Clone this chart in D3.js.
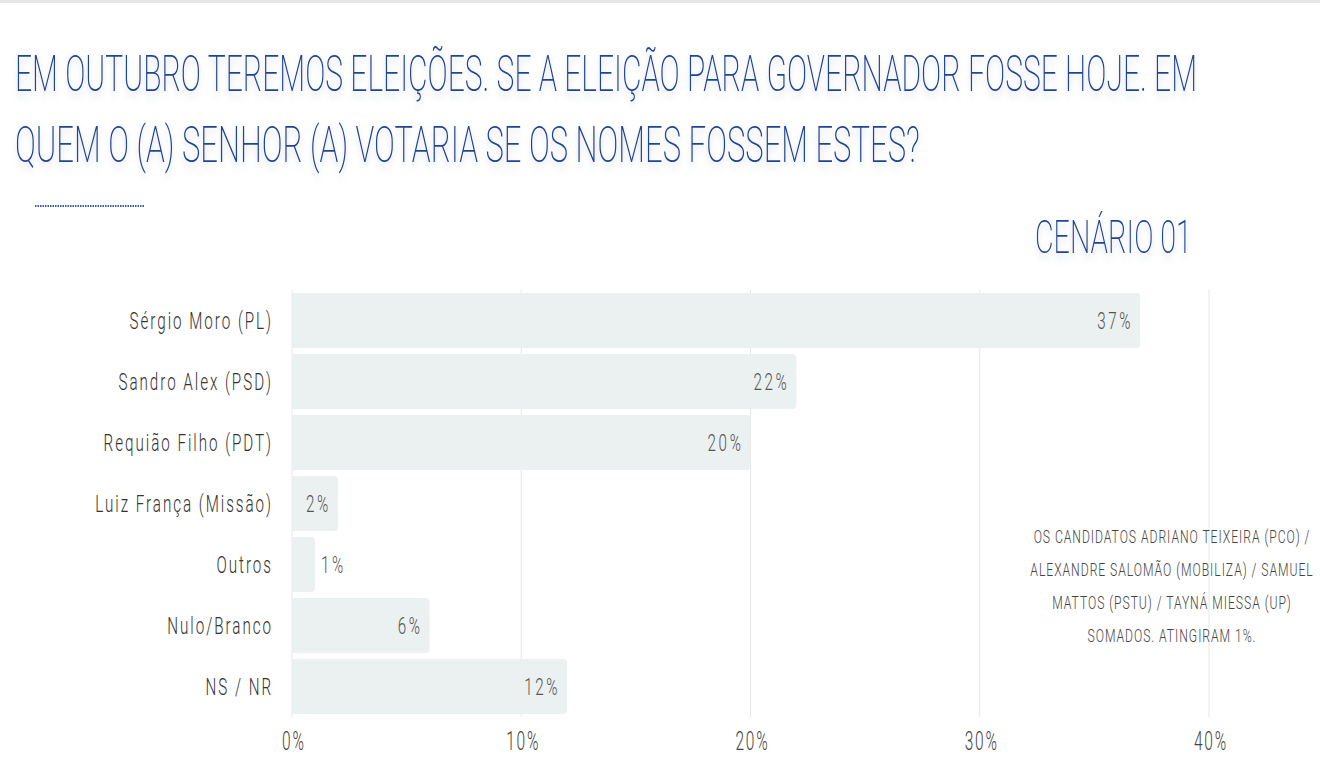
<!DOCTYPE html>
<html><head><meta charset="utf-8">
<script src="https://cdn.jsdelivr.net/npm/d3@7/dist/d3.min.js"></script>
<style>
html,body{margin:0;padding:0;background:#fff;}
svg{display:block;}
</style></head>
<body>
<svg id="c" width="1320" height="768"></svg>
<script>
const categories = ["Sérgio Moro (PL)","Sandro Alex (PSD)","Requião Filho (PDT)","Luiz França (Missão)","Outros","Nulo/Branco","NS / NR"];
const values = [37,22,20,2,1,6,12];
const tickValues = [0,10,20,30,40];
const titleLines = ["EM OUTUBRO TEREMOS ELEIÇÕES. SE A ELEIÇÃO PARA GOVERNADOR FOSSE HOJE. EM","QUEM O (A) SENHOR (A) VOTARIA SE OS NOMES FOSSEM ESTES?"];
const subtitle = "CENÁRIO 01";
const noteLines = ["OS CANDIDATOS ADRIANO TEIXEIRA (PCO) /","ALEXANDRE SALOMÃO (MOBILIZA) / SAMUEL","MATTOS (PSTU) / TAYNÁ MIESSA (UP)","SOMADOS. ATINGIRAM 1%."];

const svg = d3.select("#c");
const defs = svg.append("defs");
const f = defs.append("filter").attr("id","sh").attr("x","-5%").attr("y","-30%").attr("width","110%").attr("height","170%");
f.append("feDropShadow").attr("dx",0).attr("dy",4).attr("stdDeviation",4).attr("flood-color","#8a9ab8").attr("flood-opacity",0.45);

// top border
svg.append("rect").attr("x",0).attr("y",0).attr("width",1320).attr("height",3).attr("fill","#e6e6e6");

const FONT = "Roboto, 'Liberation Sans', sans-serif";

// text fitted to a target width via horizontal scale
function fitText(str, tx, ty, width, size, weight, fill, anchor){
  const t = svg.append("text").attr("font-family",FONT).attr("font-weight",weight)
    .attr("font-size",size).attr("fill",fill).attr("text-anchor",anchor||"start").text(str);
  const w = t.node().getComputedTextLength();
  t.attr("transform",`translate(${tx},${ty}) scale(${width/w},1)`);
  return t;
}

// title
const tl = [[15,91,1182],[15,162,905]];
titleLines.forEach((t,i)=>{
  fitText(t, tl[i][0], tl[i][1], tl[i][2], 50, 200, "#1f4493").attr("filter","url(#sh)");
});
// dotted line
svg.append("line").attr("x1",35).attr("x2",145).attr("y1",206).attr("y2",206)
  .attr("stroke","#3a5aa8").attr("stroke-width",2).attr("stroke-dasharray","1.5,1");

// subtitle
fitText(subtitle, 1035, 253, 157, 46, 200, "#1f4493").attr("filter","url(#sh)");

const x = d3.scaleLinear().domain([0,40]).range([292,1209]);
const y = d3.scaleBand().domain(categories).range([290,717]).paddingInner(0.1).paddingOuter(0.05);

// gridlines
svg.append("g").selectAll("line").data(tickValues).join("line")
  .attr("x1",d=>x(d)).attr("x2",d=>x(d)).attr("y1",290).attr("y2",717)
  .attr("stroke","#e6e6e6").attr("stroke-width",1);

function condText(g, tx, ty, str, size, sx, anchor, fill, ls){
  return g.append("text").attr("transform",`translate(${tx},${ty}) scale(${sx},1)`)
    .attr("text-anchor",anchor).attr("font-family",FONT).attr("font-weight",300)
    .attr("font-size",size).attr("fill",fill).attr("letter-spacing",ls||0).text(str);
}

// bars
const r = 4;
svg.append("g").selectAll("path").data(values).join("path")
  .attr("d",(d,i)=>{
    const x0=x(0), x1=x(d), y0=y(categories[i]), h=y.bandwidth();
    const rr=Math.min(r,(x1-x0));
    return `M${x0},${y0}H${x1-rr}Q${x1},${y0} ${x1},${y0+rr}V${y0+h-rr}Q${x1},${y0+h} ${x1-rr},${y0+h}H${x0}Z`;
  }).attr("fill","#ebf0f0");

const lg = svg.append("g");
values.forEach((v,i)=>{
  const inside = (x(v)-x(0))>35;
  const cy = y(categories[i])+y.bandwidth()/2+8;
  condText(lg, inside? x(v)-7 : x(v)+6, cy, v+"%", 23, 0.66, inside?"end":"start", "#555", 4);
  condText(lg, 273, cy, categories[i], 23, 0.66, "end", "#333", 3);
});

// x tick labels
tickValues.forEach(t=>{
  condText(svg, x(t)+2, 750, t+"%", 25, 0.62, "middle", "#444", 3);
});

// note
noteLines.forEach((t,i)=>{
  condText(svg, 1172, 543+i*33, t, 19, 0.64, "middle", "#444", 1.5);
});
</script>
</body></html>
